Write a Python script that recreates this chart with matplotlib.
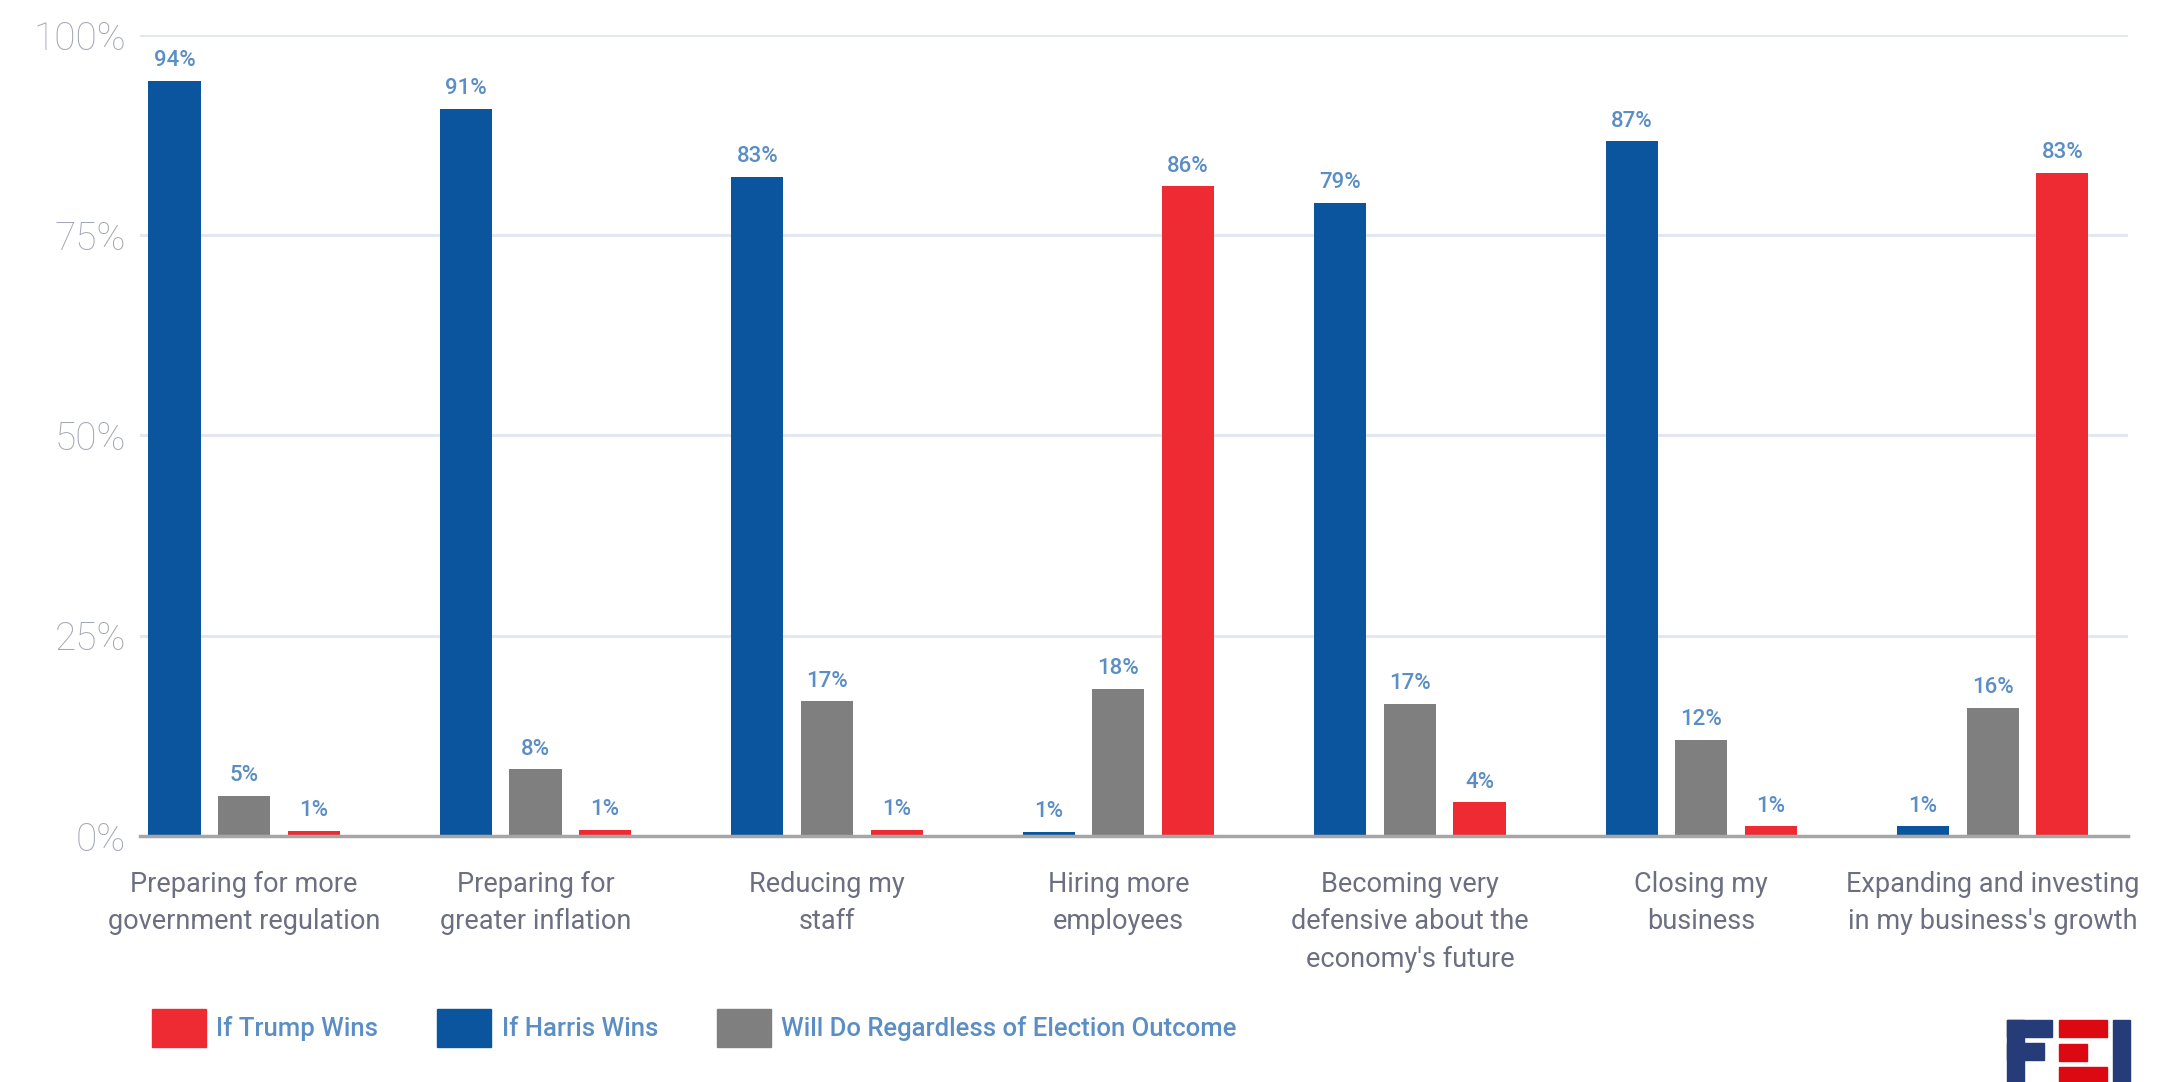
import matplotlib.pyplot as plt
from matplotlib.patches import Patch, Rectangle
import numpy as np

plt.rcParams['font.family'] = ['Roboto', 'DejaVu Sans']

categories = [
    "Preparing for more\ngovernment regulation",
    "Preparing for\ngreater inflation",
    "Reducing my\nstaff",
    "Hiring more\nemployees",
    "Becoming very\ndefensive about the\neconomy's future",
    "Closing my\nbusiness",
    "Expanding and investing\nin my business's growth",
]

# bar heights as drawn in the picture, and the printed labels
harris = [94.3, 90.8, 82.3, 0.5, 79.0, 86.7, 1.2]
regardless = [5.0, 8.3, 16.8, 18.4, 16.5, 12.0, 16.0]
trump = [0.6, 0.8, 0.8, 81.1, 4.2, 1.2, 82.8]

harris_labels = ["94%", "91%", "83%", "1%", "79%", "87%", "1%"]
regardless_labels = ["5%", "8%", "17%", "18%", "17%", "12%", "16%"]
trump_labels = ["1%", "1%", "1%", "86%", "4%", "1%", "83%"]

yticks = [0, 25, 50, 75, 100]
ytick_labels = ["0%", "25%", "50%", "75%", "100%"]

BLUE = '#0a559e'
RED = '#ee2a33'
GRAY = '#7f7f7f'
LABEL_BLUE = '#5b8ec4'
TEXT_GRAY = '#6b6f80'

fig = plt.figure(figsize=(21.78, 10.82), dpi=100)
ax = fig.add_axes([0.0643, 0.2274, 0.977 - 0.0643, 0.9677 - 0.2274])

x = np.arange(len(categories))
width = 0.179
step = 0.239

series = [
    (harris, harris_labels, BLUE, -step),
    (regardless, regardless_labels, GRAY, 0),
    (trump, trump_labels, RED, step),
]
for vals, labels, color, off in series:
    bars = ax.bar(x + off, vals, width, color=color, zorder=3)
    for b, lab in zip(bars, labels):
        ax.annotate(lab, (b.get_x() + b.get_width() / 2, b.get_height()),
                    xytext=(0, 7), textcoords='offset points',
                    ha='center', va='bottom', fontsize=16,
                    fontweight='medium', color=LABEL_BLUE)

ax.set_xlim(-0.357, 6.464)
ax.set_ylim(0, 100)
ax.set_yticks(yticks)
ax.set_yticklabels(ytick_labels, fontsize=28, fontweight='light', color='#a3a7b3')
ax.set_xticks(x)
ax.set_xticklabels(categories, fontsize=19.5, color=TEXT_GRAY, linespacing=1.5)
ax.tick_params(axis='both', length=0)
ax.tick_params(axis='x', pad=25)
ax.tick_params(axis='y', pad=10)

ax.grid(axis='y', color='#e3e7f0', linewidth=2.2, zorder=0)
for side in ['top', 'right', 'left']:
    ax.spines[side].set_visible(False)
ax.spines['bottom'].set_color('#a6a6a6')
ax.spines['bottom'].set_linewidth(2.5)
ax.spines['bottom'].set_zorder(4)

handles = [
    Patch(color=RED, label='If Trump Wins'),
    Patch(color=BLUE, label='If Harris Wins'),
    Patch(color=GRAY, label='Will Do Regardless of Election Outcome'),
]
leg = fig.legend(handles=handles, loc='center left', bbox_to_anchor=(0.0698, 0.050),
                 ncol=3, frameon=False, fontsize=18.5, borderpad=0, borderaxespad=0,
                 handlelength=2.1, handleheight=1.9, handletextpad=0.4,
                 columnspacing=2.3)
for t in leg.get_texts():
    t.set_color(LABEL_BLUE)
    t.set_fontweight('medium')

# FEI logo, bottom right
W, H = 2178.0, 1082.0
NAVY = '#253c78'
LOGO_RED = '#dc0812'
def box(x0, y0, x1, y1, c):
    fig.patches.append(Rectangle((x0 / W, 1 - y1 / H), (x1 - x0) / W, (y1 - y0) / H,
                                 transform=fig.transFigure, color=c, zorder=5))
box(2007, 1020, 2024, 1082, NAVY)
box(2007, 1020, 2052, 1037, NAVY)
box(2007, 1043, 2044, 1060, NAVY)
box(2059, 1020, 2107, 1037, LOGO_RED)
box(2059, 1044, 2087, 1061, LOGO_RED)
box(2059, 1067, 2107, 1082, LOGO_RED)
box(2113, 1020, 2130, 1082, NAVY)

fig.savefig('out.png', dpi=100)
